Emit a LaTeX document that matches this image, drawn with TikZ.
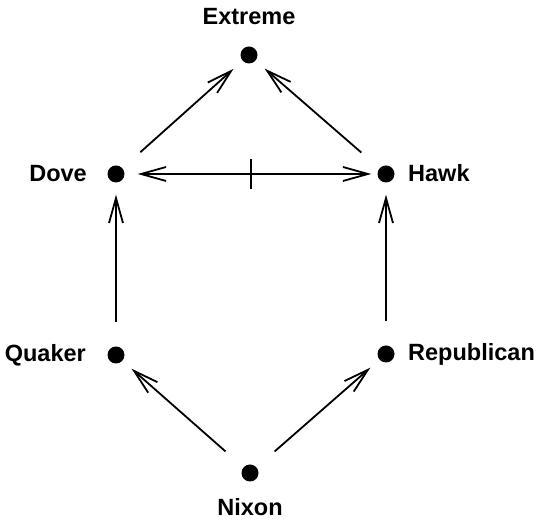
\documentclass[tikz,border=0pt]{standalone}
\usepackage{fontspec}
\setmainfont{Liberation Sans}
\usetikzlibrary{arrows.meta}
\begin{document}
\begin{tikzpicture}[x=1pt,y=1pt,
  dot/.style={circle,fill=black,inner sep=0pt,minimum size=17pt},
  lbl/.style={font=\fontsize{23.5}{26}\selectfont\bfseries,inner sep=0pt},
  barb/.tip={Straight Barb[length=25pt,width=14pt,line width=1.8pt]},
  edge/.style={line width=1.8pt,-barb,shorten <=24pt,shorten >=12pt},
  tick/.style={line width=1.8pt}]
\useasboundingbox (0,0) rectangle (536,519);
% dots (y measured from top: y' = 519 - y)
\node[dot] (extreme) at (249,464) {};
\node[dot] (dove) at (116,345) {};
\node[dot] (hawk) at (386,345) {};
\node[dot] (quaker) at (116,164) {};
\node[dot] (republican) at (386,165) {};
\node[dot] (nixon) at (250,46) {};
% labels
\node[lbl] (extremel) at (249,502) {Extreme};
\node[lbl,anchor=east] (dovel) at (87,345) {Dove};
\node[lbl,anchor=west] (hawkl) at (408,346) {Hawk};
\node[lbl,anchor=east] (quakerl) at (86,164) {Quaker};
\node[lbl,anchor=west] (republicanl) at (408,165) {Republican};
\node[lbl] (nixonl) at (250,12) {Nixon};
% edges
\draw[edge] (dove) -- (extreme);
\draw[edge] (hawk) -- (extreme);
\draw[edge] (quaker) -- (dove);
\draw[edge] (republican) -- (hawk);
\draw[edge] (nixon) -- (quaker);
\draw[edge] (nixon) -- (republican);
\draw[line width=1.8pt,barb-barb,shorten <=13pt,shorten >=6pt] (dove) -- (hawk);
\path (dove) -- (hawk) coordinate[midway] (mid);
\draw[tick] ([yshift=15pt]mid) -- ([yshift=-15pt]mid);
\end{tikzpicture}
\end{document}
